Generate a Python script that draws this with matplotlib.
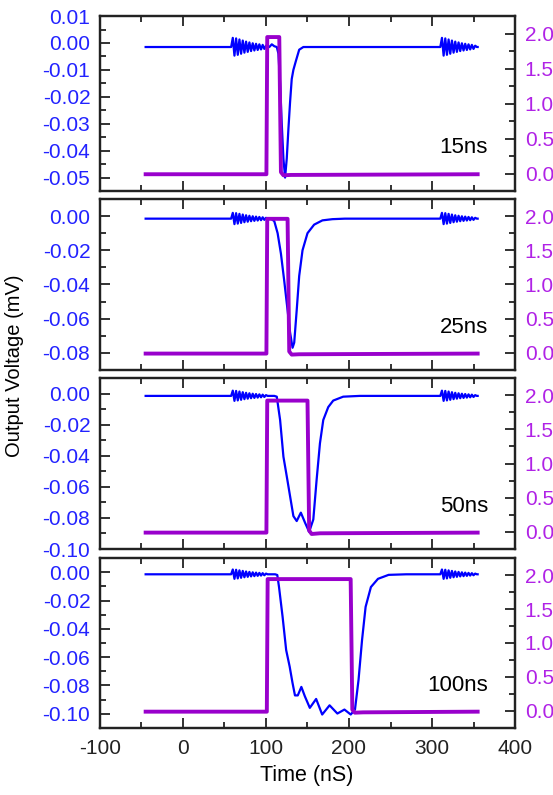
import numpy as np
import matplotlib
matplotlib.use("Agg")
import matplotlib.pyplot as plt
from matplotlib.ticker import MultipleLocator, FuncFormatter

plt.rcParams['font.family'] = ['Liberation Sans', 'DejaVu Sans']
plt.rcParams['axes.unicode_minus'] = False

# pulse widths shown in each panel
labels = ["15ns", "25ns", "50ns", "100ns"]

# ringing burst, offsets (ns) from burst start and deviation from baseline (mV)
ring_dt = [-2, 0, 2, 4, 6, 8, 10, 12, 14, 16, 18, 20, 22, 24, 26, 28, 30,
           32, 34, 36, 38, 40, 42]
ring_dv = [0, 0.0034, -0.0032, 0.0032, -0.0029, 0.0028, -0.0025, 0.0024,
           -0.0021, 0.0020, -0.0018, 0.0017, -0.0015, 0.0014, -0.0013, 0.0012,
           -0.0011, 0.0010, -0.0009, 0.0008, -0.0007, 0.0005, 0.0]
ring_start = [60, 312]
baseline = -0.0015
t_first, t_last = -45, 355

# output voltage around the pulse (time ns, voltage mV)
pulse_t = [
    [104, 107, 110, 113, 115, 117, 119, 121, 123, 125, 127, 129, 131, 133, 136, 140, 145],
    [106, 110, 114, 118, 122, 126, 129, 132, 134, 137, 140, 144, 150, 158, 168, 180, 195],
    [110, 113, 117, 121, 125.7, 129, 133, 137, 142, 147, 152, 157, 161, 165, 169, 175,
     181, 193, 213],
    [111, 113.6, 115.7, 120, 124.3, 128.5, 131.9, 134.9, 138.3, 142.6, 146.8, 152.8,
     160.4, 167.7, 176.6, 186, 194.5, 202.1, 207.2, 211.5, 215.7, 220, 226.4, 234.9,
     247.7, 269],
]
pulse_v = [
    [-0.0015, -0.0005, -0.0012, -0.0015, -0.004, -0.015, -0.030, -0.043, -0.050,
     -0.043, -0.032, -0.022, -0.0134, -0.010, -0.0067, -0.0025, -0.0015],
    [-0.0015, -0.003, -0.010, -0.022, -0.038, -0.055, -0.068, -0.077, -0.074, -0.055,
     -0.035, -0.020, -0.010, -0.005, -0.0025, -0.0018, -0.0015],
    [-0.0015, -0.002, -0.017, -0.0406, -0.0554, -0.066, -0.0788, -0.082, -0.0766,
     -0.083, -0.089, -0.081, -0.0554, -0.032, -0.017, -0.0087, -0.0045, -0.002, -0.0015],
    [-0.0015, -0.002, -0.0105, -0.0315, -0.055, -0.0666, -0.078, -0.087, -0.087,
     -0.081, -0.0876, -0.0958, -0.0895, -0.1005, -0.094, -0.0998, -0.097, -0.1005,
     -0.097, -0.076, -0.048, -0.0245, -0.0105, -0.0047, -0.0019, -0.0015],
]

# input pulse (time ns, level V)
input_t = [
    [-45, 100.5, 101.5, 116, 118, 121, 130, 355],
    [-45, 100.5, 101.5, 126, 128, 131, 140, 355],
    [-45, 100.5, 101.5, 150, 152, 155, 165, 355],
    [-45, 101, 102, 202, 204, 207, 217, 355],
]
input_v = [
    [-0.01, -0.01, 1.95, 1.95, 0.02, -0.025, -0.02, -0.01],
    [-0.01, -0.01, 1.96, 1.96, 0.02, -0.025, -0.02, -0.01],
    [-0.01, -0.01, 1.92, 1.92, 0.02, -0.03, -0.02, -0.01],
    [-0.01, -0.01, 1.94, 1.94, 0.02, -0.025, -0.02, -0.01],
]

left_lim = [(-0.055, 0.01), (-0.09, 0.01), (-0.10, 0.01), (-0.11, 0.01)]
left_major = [0.01, 0.02, 0.02, 0.02]

blue = '#0000FF'
blue_txt = '#2222FF'
purple = '#9900CC'
purple_txt = '#B022E6'
spine = '#222222'


def fmt(decimals):
    def f(v, pos):
        if abs(v) < 1e-9:
            v = 0.0
        return f"{v:.{decimals}f}"
    return FuncFormatter(f)


fig = plt.figure(figsize=(5.53, 7.95), dpi=100)
boxes = [(0.7597, 0.2201), (0.5346, 0.2151), (0.3094, 0.2151), (0.0843, 0.2138)]

ring_t = np.array(ring_dt)
ring_v = np.array(ring_dv)

for i in range(4):
    ax = fig.add_axes([0.1808, boxes[i][0], 0.7505, boxes[i][1]])
    ax2 = ax.twinx()

    t = np.concatenate([[t_first], ring_start[0] + ring_t, pulse_t[i],
                        ring_start[1] + ring_t, [t_last]])
    v = np.concatenate([[baseline], baseline + ring_v, pulse_v[i],
                        baseline + ring_v, [baseline]])
    ax.plot(t, v, color=blue, lw=1.6)
    ax2.plot(input_t[i], input_v[i], color=purple, lw=2.8)

    ax.set_xlim(-100, 400)
    ax.set_ylim(*left_lim[i])
    ax2.set_ylim(-0.25, 2.25)

    ax.xaxis.set_major_locator(MultipleLocator(100))
    ax.xaxis.set_minor_locator(MultipleLocator(50))
    ax.yaxis.set_major_locator(MultipleLocator(left_major[i]))
    ax.yaxis.set_minor_locator(MultipleLocator(left_major[i] / 2))
    ax.yaxis.set_major_formatter(fmt(2))
    ax2.yaxis.set_major_locator(MultipleLocator(0.5))
    ax2.yaxis.set_minor_locator(MultipleLocator(0.25))
    ax2.yaxis.set_major_formatter(fmt(1))
    ax.xaxis.set_major_formatter(fmt(0))

    ax.tick_params(axis='x', which='both', direction='in', top=True, bottom=True,
                   colors=spine, labelsize=15, width=1.3, pad=8)
    ax.tick_params(axis='x', which='major', length=7)
    ax.tick_params(axis='x', which='minor', length=4)
    ax.tick_params(axis='y', which='both', direction='in', labelcolor=blue_txt,
                   color=spine, labelsize=15, width=1.3, pad=7)
    ax.tick_params(axis='y', which='major', length=7)
    ax.tick_params(axis='y', which='minor', length=4)
    ax2.tick_params(axis='y', which='both', direction='in', labelcolor=purple_txt,
                    color=spine, labelsize=15, width=1.3, pad=7)
    ax2.tick_params(axis='y', which='major', length=7)
    ax2.tick_params(axis='y', which='minor', length=4)
    if i < 3:
        ax.tick_params(axis='x', labelbottom=False)

    for a in (ax, ax2):
        for s in a.spines.values():
            s.set_color(spine)
            s.set_linewidth(1.6)

    ax.text(0.935, 0.25, labels[i], transform=ax.transAxes, ha='right',
            va='center', fontsize=16, color='black')

fig.text(0.555, 0.024, 'Time (nS)', ha='center', va='center', fontsize=15.5)
fig.text(0.027, 0.54, 'Output Voltage (mV)', ha='center', va='center',
         rotation=90, fontsize=14.5)

fig.savefig('out.png', dpi=100)
